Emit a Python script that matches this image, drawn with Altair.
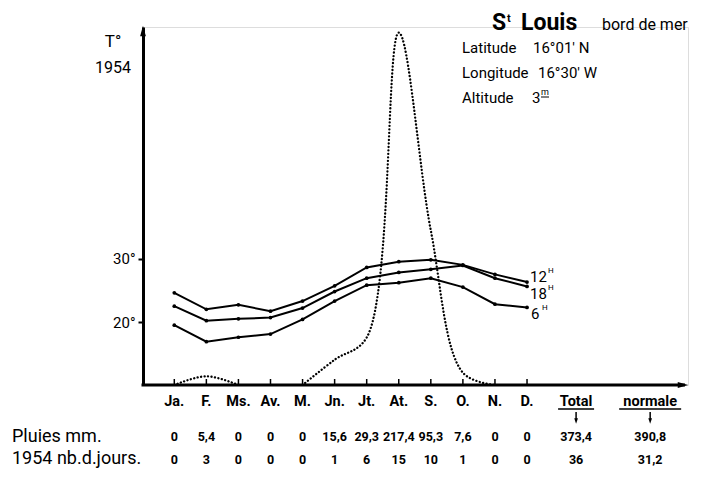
import altair as alt
import pandas as pd

FONT = "Roboto, Liberation Sans, sans-serif"

# ---------------- data ----------------
months = ["Ja.", "F.", "Ms.", "Av.", "M.", "Jn.", "Jt.", "At.", "S.", "O.", "N.", "D."]
month_idx = list(range(12))
t12 = [24.6, 22.0, 22.7, 21.7, 23.3, 25.7, 28.6, 29.5, 29.8, 29.0, 27.5, 26.3]
t18 = [22.5, 20.2, 20.5, 20.7, 22.2, 24.8, 26.9, 27.8, 28.3, 28.9, 26.9, 25.6]
t6 = [19.5, 16.9, 17.6, 18.1, 20.4, 23.3, 25.8, 26.2, 26.9, 25.5, 22.8, 22.3]
rain = [0, 5.4, 0, 0, 0, 15.6, 29.3, 217.4, 95.3, 7.6, 0, 0]
rain_labels = ["0", "5,4", "0", "0", "0", "15,6", "29,3", "217,4", "95,3", "7,6", "0", "0"]
days_labels = ["0", "3", "0", "0", "0", "1", "6", "15", "10", "1", "0", "0"]
summary_names = ["Total", "normale"]
summary_pos = [12.53, 14.84]
summary_rain = ["373,4", "390,8"]
summary_days = ["36", "31,2"]
series_names = ["12", "18", "6"]
temp_ticks = [20, 30]

# ---------------- frames ----------------
temp_df = pd.concat([
    pd.DataFrame({"i": month_idx, "t": vals, "s": name})
    for name, vals in zip(series_names, [t12, t18, t6])
])
# rain curve drawn in two visible pieces (the rest lies on the axis)
seg1 = [0, 1, 2]
seg2 = [4, 5, 6, 7, 8, 9, 10]
rain_df = pd.concat([
    pd.DataFrame({"i": seg1, "r": [rain[k] for k in seg1], "seg": "a"}),
    pd.DataFrame({"i": seg2, "r": [rain[k] for k in seg2], "seg": "b"}),
])
cols_pos = month_idx + summary_pos
label_df = pd.DataFrame({"i": cols_pos, "lab": months + summary_names,
                         "r1": rain_labels + summary_rain, "r2": days_labels + summary_days})
month_df = pd.DataFrame({"i": month_idx})
sum_df = pd.DataFrame({"i": summary_pos, "n": summary_names})

W, H = 545, 358
X = alt.Scale(domain=[-0.976, 16.02], nice=False, zero=False)
YT = alt.Scale(domain=[10.08, 66.46], nice=False, zero=False)
YR = alt.Scale(domain=[0, 220.9], nice=False, zero=False)

xq = alt.X("i:Q", scale=X, axis=None)

temp_lines = alt.Chart(temp_df).mark_line(color="black", strokeWidth=2).encode(
    x=xq,
    y=alt.Y("t:Q", scale=YT, axis=alt.Axis(values=temp_ticks, labelExpr="datum.value + '°'",
                                           title=None, grid=False, domainColor="black",
                                           domainWidth=3, tickColor="black", tickWidth=2,
                                           tickSize=5, labelFontSize=15, labelFont=FONT,
                                           labelColor="black", labelPadding=3)),
    detail="s:N",
)
temp_pts = alt.Chart(temp_df).mark_point(filled=True, color="black", size=14, opacity=1).encode(
    x=xq, y=alt.Y("t:Q", scale=YT, axis=None)
)

rain_line = alt.Chart(rain_df).mark_line(
    interpolate="catmull-rom", color="black", strokeWidth=2.3, strokeDash=[0.1, 3.4],
    strokeCap="round", clip=True
).encode(x=xq, y=alt.Y("r:Q", scale=YR, axis=None), detail="seg:N")

base_line = alt.Chart(month_df.head(1)).mark_rule(color="black", strokeWidth=3).encode(
    x=alt.value(-1.5), x2=alt.value(W - 3), y=alt.value(H))

month_ticks = alt.Chart(month_df).mark_rule(color="black", strokeWidth=1.5).encode(
    x=xq, y=alt.value(H), y2=alt.value(H - 6)
)

ARROW_UP = "M0,-1L0.55,1L-0.55,1Z"
ARROW_R = "M1,0L-1,0.55L-1,-0.55Z"
arrows = alt.layer(
    alt.Chart(month_df.head(1)).mark_point(shape=ARROW_UP, filled=True, color="black", size=110, opacity=1)
    .encode(x=alt.value(0), y=alt.value(4)),
    alt.Chart(month_df.head(1)).mark_point(shape=ARROW_R, filled=True, color="black", size=110, opacity=1)
    .encode(x=alt.value(W - 5), y=alt.value(H)),
)


def txt(df, field, x, y, size, weight="normal", align="center", baseline="alphabetic"):
    return alt.Chart(df).mark_text(font=FONT, fontSize=size, fontWeight=weight, align=align,
                                   baseline=baseline, color="black").encode(
        x=x, y=y, text=f"{field}:N")


lab_layer = txt(label_df, "lab", xq, alt.value(379), 14.5, "bold")
r1_layer = txt(label_df, "r1", xq, alt.value(414), 12.5, "bold")
r2_layer = txt(label_df, "r2", xq, alt.value(437), 12.5, "bold")

# underlines and down arrows under "Total" / "normale"
ul_total = alt.Chart(sum_df.head(1)).mark_rule(color="black", strokeWidth=1.5, xOffset=-18, x2Offset=18).encode(
    x=xq, x2=alt.X2("i:Q"), y=alt.value(382))
ul_norm = alt.Chart(sum_df.tail(1)).mark_rule(color="black", strokeWidth=1.5, xOffset=-31, x2Offset=31).encode(
    x=xq, x2=alt.X2("i:Q"), y=alt.value(382))
arrow_stem = alt.Chart(sum_df).mark_rule(color="black", strokeWidth=1.5).encode(
    x=xq, y=alt.value(385), y2=alt.value(393))
arrow_head = alt.Chart(sum_df).mark_point(shape="M0,1L0.7,-1L-0.7,-1Z", filled=True, color="black",
                                          size=28, opacity=1).encode(x=xq, y=alt.value(394))

# free annotations (pixel positions relative to plot area)
ann = pd.DataFrame([
    {"t": "T°", "x": -30, "y": 20, "s": 17, "w": "normal", "a": "center"},
    {"t": "1954", "x": -30, "y": 46, "s": 16, "w": "normal", "a": "center"},
    {"t": "S", "x": 349, "y": 3, "s": 23, "w": "bold", "a": "left"},
    {"t": "t", "x": 364, "y": -5, "s": 11, "w": "bold", "a": "left"},
    {"t": "Louis", "x": 378, "y": 3, "s": 23, "w": "bold", "a": "left"},
    {"t": "bord de mer", "x": 459, "y": 3, "s": 16, "w": "normal", "a": "left"},
    {"t": "Latitude", "x": 319, "y": 26, "s": 15, "w": "normal", "a": "left"},
    {"t": "16°01' N", "x": 390, "y": 26, "s": 15, "w": "normal", "a": "left"},
    {"t": "Longitude", "x": 319, "y": 51, "s": 15, "w": "normal", "a": "left"},
    {"t": "16°30' W", "x": 395, "y": 51, "s": 15, "w": "normal", "a": "left"},
    {"t": "Altitude", "x": 319, "y": 76, "s": 15, "w": "normal", "a": "left"},
    {"t": "3", "x": 389, "y": 76, "s": 15, "w": "normal", "a": "left"},
    {"t": "m", "x": 398, "y": 68, "s": 9, "w": "normal", "a": "left"},
    {"t": "12", "x": 387, "y": 255, "s": 15, "w": "normal", "a": "left"},
    {"t": "H", "x": 405, "y": 246, "s": 8, "w": "normal", "a": "left"},
    {"t": "18", "x": 387, "y": 272, "s": 15, "w": "normal", "a": "left"},
    {"t": "H", "x": 405, "y": 263, "s": 8, "w": "normal", "a": "left"},
    {"t": "6", "x": 388, "y": 292, "s": 15, "w": "normal", "a": "left"},
    {"t": "H", "x": 399, "y": 283, "s": 8, "w": "normal", "a": "left"},
    {"t": "Pluies mm.", "x": -131, "y": 415, "s": 18, "w": "normal", "a": "left"},
    {"t": "1954 nb.d.jours.", "x": -131, "y": 437, "s": 18, "w": "normal", "a": "left"},
])
ann_layers = []
for _, row in ann.iterrows():
    ann_layers.append(
        alt.Chart(pd.DataFrame({"t": [row["t"]]})).mark_text(
            font=FONT, fontSize=float(row["s"]), fontWeight=row["w"], align=row["a"],
            baseline="alphabetic", color="black"
        ).encode(x=alt.value(float(row["x"])), y=alt.value(float(row["y"])), text="t:N")
    )
m_ul = alt.Chart(month_df.head(1)).mark_rule(color="black", strokeWidth=1).encode(
    x=alt.value(398), x2=alt.value(406), y=alt.value(70))

chart = alt.layer(
    temp_lines, temp_pts, rain_line, base_line, month_ticks, arrows,
    lab_layer, r1_layer, r2_layer, ul_total, ul_norm, arrow_stem, arrow_head, m_ul, *ann_layers
).resolve_scale(y="independent").properties(
    width=W, height=H, padding={"left": 135, "top": 19, "right": 8, "bottom": 84},
    autosize=alt.AutoSizeParams(type="none"),
).configure_view(stroke=None).configure(background="white")

chart.save("out.html", embed_options={"renderer": "svg", "actions": False})
